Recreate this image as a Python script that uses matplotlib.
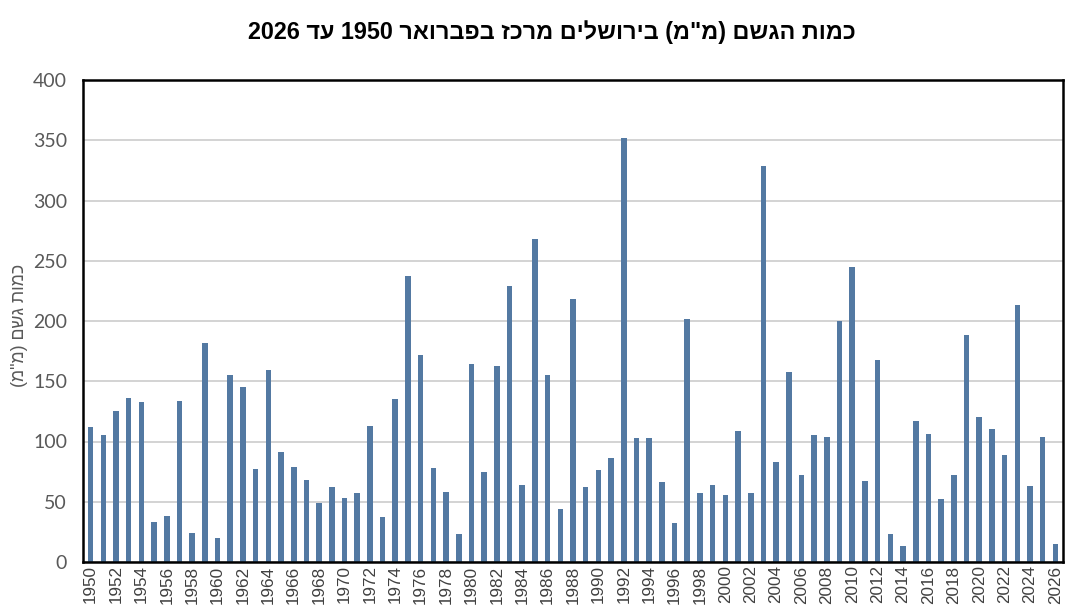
import matplotlib
matplotlib.use("Agg")
import matplotlib.pyplot as plt
import re

years = list(range(1950, 2027))
rain_mm = [112, 105, 125, 136, 133, 33, 38, 134, 24, 182,
           20, 155, 145, 77, 159, 91, 79, 68, 49, 62,
           53, 57, 113, 37, 135, 237, 172, 78, 58, 23,
           164, 75, 163, 229, 64, 268, 155, 44, 218, 62,
           76, 86, 352, 103, 103, 66, 32, 202, 57, 64,
           56, 109, 57, 329, 83, 158, 72, 105, 104, 200,
           245, 67, 168, 23, 13, 117, 106, 52, 72, 188,
           120, 110, 89, 213, 63, 104, 15]
tick_years = years[::2]
y_ticks = [0, 50, 100, 150, 200, 250, 300, 350, 400]

title_text = 'כמות הגשם (מ"מ) בירושלים מרכז בפברואר 1950 עד 2026'
ylabel_text = 'כמות גשם (מ"מ)'


def visual(s):
    """Convert logical-order RTL text to visual (LTR display) order."""
    r = s[::-1]
    r = re.sub(r'\d+', lambda m: m.group(0)[::-1], r)
    r = r.translate(str.maketrans('()', ')('))
    return r


fig = plt.figure(figsize=(10.85, 6.09), dpi=100)
ax = fig.add_axes([83 / 1085, 1 - 562 / 609, (1063 - 83) / 1085, (562 - 80) / 609])

ax.bar(years, rain_mm, width=0.44, color='#5379a2', zorder=3)
ax.set_xlim(years[0] - 0.6, years[-1] + 0.6)
ax.set_ylim(0, 400)
ax.set_yticks(y_ticks)
ax.grid(axis='y', color='#d0d0d0', linewidth=1.3, zorder=0)
ax.set_xticks(tick_years)
ax.set_xticklabels([str(y) for y in tick_years], rotation=90,
                   fontsize=12.3, color='#404040', family='Liberation Sans')
ax.tick_params(axis='x', length=0, pad=2.5)
ax.tick_params(axis='y', length=0, pad=11.5, labelsize=14, labelcolor='#595959')
for lab in ax.get_yticklabels():
    lab.set_family('Lato')

for sp in ax.spines.values():
    sp.set_color('black')
    sp.set_linewidth(1.8)
    sp.set_zorder(4)

fig.text(20 / 1085, 1 - 325 / 609, visual(ylabel_text), rotation=90,
         ha='center', va='center', fontsize=12.8, color='#595959',
         family='Liberation Sans')
fig.text(552 / 1085, 1 - 32 / 609, visual(title_text), ha='center', va='center',
         fontsize=16.8, fontweight='bold', color='black', family='Liberation Sans')

fig.savefig('out.png', dpi=100)
